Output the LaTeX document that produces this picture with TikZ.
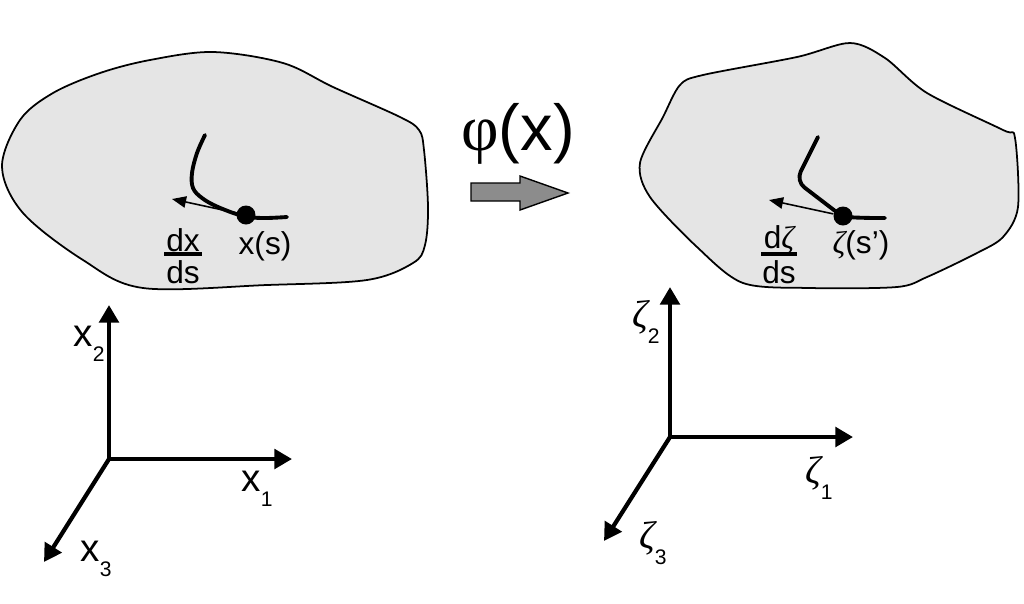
\documentclass[tikz,border=0pt]{standalone}
\usepackage{fontspec}
\setmainfont{Liberation Sans}
\newfontfamily\greekfont{Liberation Serif}
\usetikzlibrary{arrows.meta}

% 坐标轴下标
\newcommand{\axidx}[1]{\raisebox{-0.4em}{\fontsize{12}{13}\selectfont #1}}

\tikzset{
  body/.style={draw=black, line width=1pt, fill=black!10},
  fibre/.style={line width=2.2pt, line cap=round},
  tangent/.style={line width=0.9pt, -{Triangle[length=8pt, width=6.5pt]}},
  axis/.style={line width=2.4pt, -{Triangle[length=10pt, width=11pt]}},
  dotpt/.style={circle, fill=black, inner sep=0pt, minimum size=0.38cm},
  lbl/.style={font=\fontsize{18}{20}\selectfont, inner sep=0pt},
  axlbl/.style={font=\fontsize{22}{24}\selectfont, inner sep=0pt},
  mapping/.style={draw=black, line width=0.8pt, fill=black!45},
}

\begin{document}
\begin{tikzpicture}[x=0.02cm, y=-0.02cm]
  \useasboundingbox (0,0) rectangle (1024,603);

  % === 左侧物体（参考构形）===
  \draw[body] plot[smooth cycle, tension=0.55] coordinates {
    (213,52) (283,63) (333,87) (400,117) (419,130) (424,150) (428,207)
    (425,245) (413,263) (367,280) (267,285) (143,288) (83,260)
    (23,213) (2,167) (20,120) (53,93) (100,73) (150,60)};

  % 物质曲线 x(s)
  \draw[fibre] plot[smooth, tension=0.6] coordinates {
    (205,135) (197,153) (192,173) (193,188) (202,198) (218,207)
    (243,216) (263,218) (287,217)};
  \node[dotpt] (xs) at (246,215) {};
  \coordinate (tL) at (172,199);
  \draw[tangent] (xs) -- (tL);

  \node[lbl] (xslbl) at (265,246) {x(s)};
  \node[lbl] (dxnum) at (183,240) {dx};
  \node[lbl] (dxden) at (183,272) {ds};
  \draw[line width=1.8pt] (164,254) -- (202,254);

  % === 映射箭头 φ(x) ===
  \node[font=\fontsize{37}{40}\selectfont, inner sep=0pt] (phi) at (518,134)
    {{\greekfont φ}(x)};
  \draw[mapping] (471,183) -- (520,183) -- (520,176) -- (568,193)
    -- (520,210) -- (520,201) -- (471,201) -- cycle;

  % === 右侧物体（当前构形）===
  \draw[body] plot[smooth cycle, tension=0.5] coordinates {
    (850,43) (885,58) (927,93) (1003,130) (1015,138) (1018,207)
    (1003,237) (977,253) (927,277) (897,287) (810,288) (743,283)
    (697,247) (650,197) (640,163) (663,117) (680,85) (703,75) (797,57)};

  % 变形后曲线 ζ(s')
  \draw[fibre, rounded corners=6pt] (818,137) -- (796,181) -- (843,217)
    -- (867,218) -- (885,218);
  \node[dotpt] (zs) at (843,216) {};
  \coordinate (tR) at (769,200);
  \draw[tangent] (zs) -- (tR);

  \node[lbl] (zslbl) at (861,245) {{\greekfont\itshape ζ}(s’)};
  \node[lbl] (dznum) at (779,240) {d{\greekfont\itshape ζ}};
  \node[lbl] (dzden) at (779,272) {ds};
  \draw[line width=1.8pt] (761,254) -- (797,254);

  % === 左侧坐标系 x1 x2 x3 ===
  \coordinate (oL) at (109,459);
  \coordinate (x1tip) at (292,459);
  \coordinate (x2tip) at (109,305);
  \coordinate (x3tip) at (44,562);
  \draw[axis] (oL) -- (x1tip);
  \draw[axis] (oL) -- (x2tip);
  \draw[axis] (oL) -- (x3tip);
  \node[axlbl] (x1lbl) at (257,489) {x\axidx{1}};
  \node[axlbl] (x2lbl) at (89,344) {x\axidx{2}};
  \node[axlbl] (x3lbl) at (96,559) {x\axidx{3}};

  % === 右侧坐标系 ζ1 ζ2 ζ3 ===
  \coordinate (oR) at (670,437);
  \coordinate (z1tip) at (853,437);
  \coordinate (z2tip) at (670,287);
  \coordinate (z3tip) at (604,541);
  \draw[axis] (oR) -- (z1tip);
  \draw[axis] (oR) -- (z2tip);
  \draw[axis] (oR) -- (z3tip);
  \node[axlbl] (z1lbl) at (819,478) {{\greekfont\itshape ζ}\axidx{1}};
  \node[axlbl] (z2lbl) at (646,322) {{\greekfont\itshape ζ}\axidx{2}};
  \node[axlbl] (z3lbl) at (653,543) {{\greekfont\itshape ζ}\axidx{3}};
\end{tikzpicture}
\end{document}
